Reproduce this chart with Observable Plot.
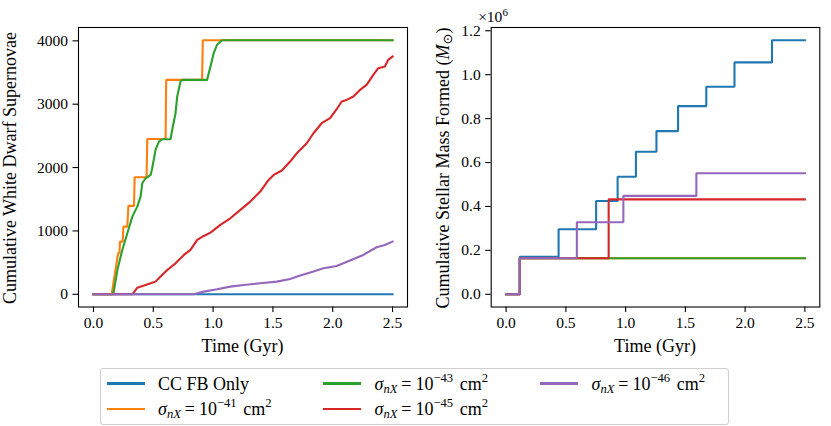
<!DOCTYPE html>
<html>
<head>
<meta charset="utf-8">
<script src="https://cdn.jsdelivr.net/npm/d3@7"></script>
<script src="https://cdn.jsdelivr.net/npm/@observablehq/plot@0.6"></script>
<style>
  body { margin: 0; background: white; }
  #wrap { position: relative; width: 831px; height: 426px; font-family: "Liberation Serif", serif; }
  #wrap svg { position: absolute; top: 0; overflow: visible; }
  #legend { position: absolute; left: 100px; top: 368px; width: 629px; height: 57px; border: 1px solid #d0d0d0; border-radius: 3px; box-sizing: border-box; }
  .item { position: absolute; height: 22px; font-size: 18px; line-height: 22px; white-space: nowrap; font-family: "Liberation Serif", serif; }
  .handle { position: absolute; width: 38px; height: 2.2px; }
  .item sub, .item sup { font-size: 70%; line-height: 0; }
  .item sub { vertical-align: -0.22em; }
  .item sup { vertical-align: 0.6em; }
  .eq { margin: 0 0.22em; }
  .sp { margin-left: 0.12em; }
</style>
</head>
<body>
<div id="wrap"><div id="legend"></div></div>
<script>
// ---------- data ----------
const seriesNames = ["CC FB Only", "1e-41", "1e-43", "1e-45", "1e-46"];
const seriesColors = ["#1f77b4", "#ff7f0e", "#2ca02c", "#d62728", "#9467bd"];
const legendExponents = [null, "41", "43", "45", "46"];

const xTicks = [0, 0.5, 1, 1.5, 2, 2.5];
const yTicksWD = [0, 1000, 2000, 3000, 4000];
const yTicksMass = [0, 200000, 400000, 600000, 800000, 1000000, 1200000];

// Left panel: cumulative white dwarf supernovae
const tWD_cc = [0, 2.5];
const vWD_cc = [0, 0];
const tWD_41 = [0, 0.152, 0.206, 0.217, 0.222, 0.244, 0.25, 0.283, 0.292, 0.339, 0.344, 0.444, 0.45, 0.603, 0.608, 0.908, 0.914, 2.5];
const vWD_41 = [0, 0, 647, 647, 832, 832, 1068, 1068, 1395, 1395, 1847, 1847, 2452, 2452, 3384, 3384, 4010, 4010];
const tWD_43 = [0, 0.166, 0.200, 0.241, 0.283, 0.325, 0.366, 0.394, 0.408, 0.436, 0.478, 0.491, 0.519, 0.547, 0.575, 0.644, 0.658, 0.686, 0.700, 0.728, 0.741, 0.950, 0.978, 1.005, 1.033, 1.075, 2.5];
const vWD_43 = [0, 0, 384, 700, 963, 1226, 1384, 1542, 1752, 1831, 1884, 1989, 2279, 2410, 2447, 2447, 2594, 2858, 3120, 3357, 3384, 3384, 3594, 3805, 3937, 4010, 4010];
const tWD_45 = [0, 0.325, 0.367, 0.422, 0.478, 0.519, 0.561, 0.617, 0.686, 0.756, 0.811, 0.867, 0.922, 0.978, 1.061, 1.144, 1.228, 1.311, 1.394, 1.464, 1.506, 1.575, 1.644, 1.700, 1.783, 1.839, 1.908, 1.978, 2.033, 2.075, 2.117, 2.172, 2.228, 2.283, 2.339, 2.381, 2.436, 2.464, 2.5];
const vWD_45 = [0, 0, 105, 137, 174, 200, 279, 384, 489, 621, 700, 858, 921, 974, 1095, 1200, 1332, 1463, 1621, 1805, 1884, 1953, 2095, 2226, 2384, 2542, 2700, 2779, 2921, 3042, 3068, 3121, 3226, 3305, 3463, 3568, 3595, 3700, 3752];
const tWD_46 = [0, 0.839, 0.922, 1.033, 1.144, 1.256, 1.394, 1.533, 1.644, 1.728, 1.839, 1.922, 2.033, 2.144, 2.256, 2.367, 2.436, 2.5];
const vWD_46 = [0, 0, 42, 79, 121, 147, 174, 200, 242, 295, 358, 410, 447, 532, 621, 742, 779, 832];

// Right panel: cumulative stellar mass formed (Msun), step-after
const tM_cc = [0, 0.114, 0.439, 0.753, 0.933, 1.086, 1.258, 1.439, 1.675, 1.911, 2.225, 2.5];
const vM_cc = [0, 171000, 296000, 425000, 535000, 649000, 743000, 857000, 945000, 1056000, 1157000, 1157000];
const tM_41 = [0, 0.114, 2.5];
const vM_41 = [0, 164000, 164000];
const tM_43 = [0, 0.114, 2.5];
const vM_43 = [0, 164000, 164000];
const tM_45 = [0, 0.114, 0.858, 2.5];
const vM_45 = [0, 164000, 432000, 432000];
const tM_46 = [0, 0.114, 0.592, 0.981, 1.592, 2.5];
const vM_46 = [0, 164000, 328000, 448000, 551000, 551000];

const wdT = [tWD_cc, tWD_41, tWD_43, tWD_45, tWD_46];
const wdV = [vWD_cc, vWD_41, vWD_43, vWD_45, vWD_46];
const mT = [tM_cc, tM_41, tM_43, tM_45, tM_46];
const mV = [vM_cc, vM_41, vM_43, vM_45, vM_46];

const rows = (ts, vs) => ts.map((t, i) => ({t, v: vs[i]}));

const FONT = "Liberation Serif";
const TICK_FS = 15.5;
const LABEL_FS = 18;

function panel({width, marginLeft, marginRight, yDomain, yTicks, yFmt, T, V, curve}) {
  return Plot.plot({
    width, height: 365,
    marginLeft, marginRight, marginTop: 27, marginBottom: 58.5,
    x: {domain: [-0.125, 2.625]},
    y: {domain: yDomain},
    style: {fontFamily: FONT, fontSize: TICK_FS + "px", color: "black", background: "transparent"},
    marks: [
      Plot.axisX({ticks: xTicks, tickSize: 5.5, tickPadding: 4, tickFormat: d => d.toFixed(1), label: null, strokeWidth: 1.1}),
      Plot.axisY({ticks: yTicks, tickSize: 5.5, tickPadding: 5, tickFormat: yFmt, label: null, strokeWidth: 1.1}),
      ...seriesNames.map((s, i) => Plot.line(rows(T[i], V[i]), {x: "t", y: "v", stroke: seriesColors[i], strokeWidth: 2.1, curve, strokeLinejoin: "miter", strokeLinecap: "square"})),
      Plot.frame({stroke: "black", strokeWidth: 1.1})
    ]
  });
}

const wrap = document.getElementById("wrap");

const left = panel({width: 415, marginLeft: 78, marginRight: 8, yDomain: [-200.5, 4210.5], yTicks: yTicksWD, yFmt: d => String(d), T: wdT, V: wdV, curve: "linear"});
left.style.left = "0px";
wrap.appendChild(left);

const right = panel({width: 416, marginLeft: 75.7, marginRight: 11.7, yDomain: [-57850, 1214850], yTicks: yTicksMass, yFmt: d => (d / 1e6).toFixed(1), T: mT, V: mV, curve: "step-after"});
right.style.left = "415px";
wrap.appendChild(right);

// axis labels
function addText(svg, x, y, rotate) {
  return d3.select(svg).append("text")
    .attr("transform", `translate(${x},${y})` + (rotate ? " rotate(-90)" : ""))
    .attr("text-anchor", "middle")
    .attr("font-family", FONT)
    .attr("font-size", LABEL_FS)
    .attr("fill", "black");
}
addText(left, 242.5, 352, false).text("Time (Gyr)");
addText(left, 15.5, 168, true).text("Cumulative White Dwarf Supernovae");
addText(right, 75.7 + 164.3, 352, false).text("Time (Gyr)");
const rl = addText(right, 34, 168, true);
rl.append("tspan").text("Cumulative Stellar Mass Formed (");
rl.append("tspan").attr("font-style", "italic").text("M");
rl.append("tspan").attr("font-size", 13).attr("dy", 3).attr("font-family", "DejaVu Sans").text("\u2299");
rl.append("tspan").attr("dy", -3).text(")");
const off = d3.select(right).append("text")
  .attr("x", 78).attr("y", 22)
  .attr("font-family", FONT).attr("font-size", TICK_FS).attr("fill", "black");
off.append("tspan").text("\u00d710");
off.append("tspan").attr("font-size", 11).attr("dy", -6).text("6");

// legend
const legend = document.getElementById("legend");
const cols = [[0, 1], [2, 3], [4]];
const colX = [5.5, 222, 439];
const rowY = [14.5, 40];
cols.forEach((col, ci) => col.forEach((si, ri) => {
  const h = document.createElement("div");
  h.className = "handle";
  h.style.left = colX[ci] + "px";
  h.style.top = (rowY[ri] - 1.1) + "px";
  h.style.background = seriesColors[si];
  legend.appendChild(h);
  const t = document.createElement("div");
  t.className = "item";
  t.style.left = (colX[ci] + 51.5) + "px";
  t.style.top = (rowY[ri] - 11) + "px";
  const e = legendExponents[si];
  t.innerHTML = e === null ? seriesNames[si]
    : `<i>σ</i><sub><i>nX</i></sub><span class="eq">=</span>10<sup>−${e}</sup><span class="sp"> cm</span><sup>2</sup>`;
  legend.appendChild(t);
}));
</script>
</body>
</html>
